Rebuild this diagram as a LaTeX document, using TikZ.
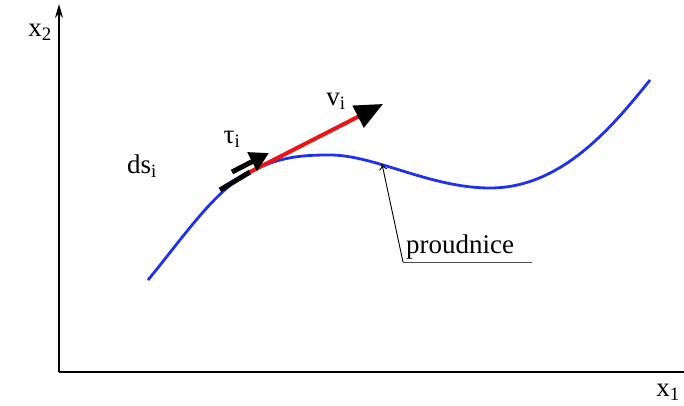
\documentclass[tikz,border=0pt]{standalone}
\usepackage{fontspec}
\setmainfont{Liberation Serif}
\usetikzlibrary{arrows.meta}
\definecolor{curveblue}{RGB}{30,50,235}
\definecolor{vred}{RGB}{235,20,20}
\tikzset{
  lbl/.style={font=\fontsize{27}{30}\selectfont, inner sep=0pt},
  axis/.style={line width=1.2pt, black},
}
\begin{document}
\begin{tikzpicture}[x=1pt,y=-1pt]
\useasboundingbox (0,0) rectangle (684,406);
% axes
\coordinate (O) at (59,372);
\coordinate (Ytop) at (59,4);
\coordinate (Xend) at (684,372);
\draw[axis, -{Stealth[length=14pt,width=8pt]}] (O) -- (Ytop);
\draw[axis] (O) -- (Xend);
\node[lbl] (x2) at (40,32) {x\textsubscript{2}};
\node[lbl] (x1) at (668,392) {x\textsubscript{1}};
% streamline
\draw[curveblue, line width=2.8pt]
  (148,280) .. controls (185,235) and (215,190) .. (250,172)
  .. controls (280,156) and (305,155) .. (330,155)
  .. controls (375,155) and (430,188) .. (490,188)
  .. controls (560,188) and (610,130) .. (650,80);
% tangent point and vectors
\coordinate (P) at (250,172);
\coordinate (Dstart) at (220,190);
\coordinate (Vend) at (383,104);
\coordinate (Tstart) at (232,172);
\coordinate (Tend) at (269,153);
\draw[black, line width=5pt] (Dstart) -- (P);
\draw[vred, line width=4pt, -{Triangle[color=black,fill=black,length=28pt,width=24pt]}] (P) -- (Vend);
\draw[black, line width=5pt, -{Triangle[length=19pt,width=20pt]}] (Tstart) -- (Tend);
\node[lbl] (tau) at (232,139) {τ\textsubscript{i}};
\node[lbl] (v) at (336,101) {v\textsubscript{i}};
\node[lbl] (ds) at (142,166) {ds\textsubscript{i}};
% label proudnice
\coordinate (Lfoot) at (403,262);
\coordinate (Lend) at (532,262);
\coordinate (Lhit) at (382,164);
\draw[black, line width=0.9pt, -{To[length=6pt,width=8pt]}] (Lfoot) -- (Lhit);
\draw[black!70, line width=1pt] (Lfoot) -- (Lend);
\node[lbl, anchor=base west] (pr) at (406,253) {proudnice};
\end{tikzpicture}
\end{document}
